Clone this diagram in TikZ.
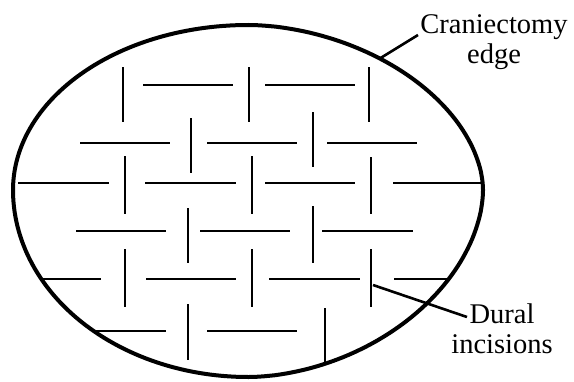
\documentclass[tikz,border=0pt]{standalone}
\usepackage{fontspec}
\setmainfont{Liberation Serif}
\begin{document}
\begin{tikzpicture}[x=1pt,y=-1pt,
  rim/.style={line width=4pt, line join=round},
  cut/.style={line width=2.4pt},
  leader/.style={line width=2.6pt},
  lbl/.style={font=\fontsize{28.5}{30}\selectfont, align=center, inner sep=0pt, anchor=base}]
\useasboundingbox (0,0) rectangle (574,381);

% craniectomy outline: egg-like oval, slightly squarer on the right side
\draw[rim]
  plot[domain=0.1:89.9, samples=60]
    ({248+235*pow(cos(\x),1.081)}, {190-165*pow(sin(\x),1.081)})
  -- plot[domain=90:270, samples=120]
    ({248+235*cos(\x)}, {190-(\x<180 ? 165 : 187)*sin(\x)})
  -- plot[domain=270.1:359.9, samples=60]
    ({248+235*pow(cos(\x),1.081)}, {190+187*pow(-sin(\x),1.081)})
  -- cycle;

% horizontal dural incisions (row y / from x / to x)
\foreach \y/\a/\b in {
  85/143/233, 85/265/355,
  143/80/170, 143/207/297, 143/327/417,
  183/18/109, 183/145/236, 183/265/355, 183/393/481,
  231/76/166, 231/200/290, 231/322/413,
  279/43/101, 279/146/236, 279/269/360, 279/394/448,
  331/95/166, 331/207/297}
  \draw[cut] (\a,\y) -- (\b,\y);

% vertical dural incisions (column x / from y / to y)
\foreach \x/\a/\b in {
  123/67/122, 249/67/122, 369/67/122,
  191/118/173, 313/112/167,
  125/156/214, 252/156/214, 371/157/214,
  188/208/263, 313/206/263,
  125/249/307, 252/249/307, 371/249/307,
  188/304/360, 325/308/364}
  \draw[cut] (\x,\a) -- (\x,\b);

% labels and their leaders
\node[lbl] (edgelbl) at (494,63) {Craniectomy\\edge};
\coordinate (rimpt) at (379,59);
\coordinate (rimtip) at (418,35);
\draw[leader] (rimpt) -- (rimtip);

\node[lbl] (durallbl) at (502,353) {Dural\\incisions};
\coordinate (cutpt) at (373,285);
\coordinate (cuttip) at (467,317);
\draw[leader] (cutpt) -- (cuttip);
\end{tikzpicture}
\end{document}
